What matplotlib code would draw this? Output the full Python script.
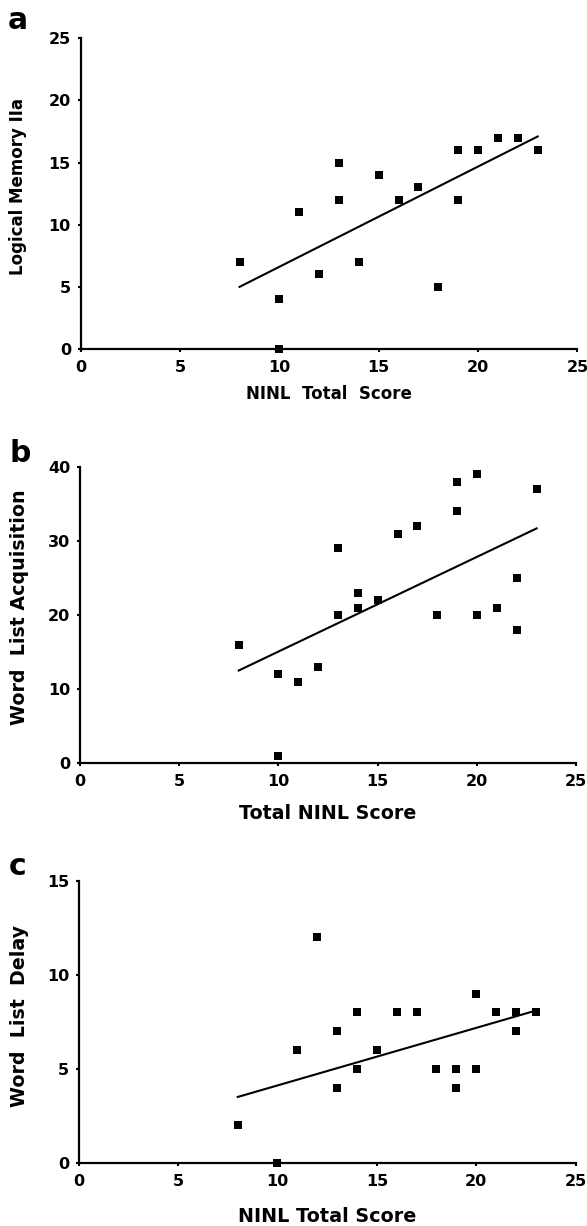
import numpy as np
import matplotlib
matplotlib.use("Agg")
import matplotlib.pyplot as plt

plt.rcParams['font.family'] = ['DejaVu Sans']
plt.rcParams['font.weight'] = 'bold'

# panel a: Logical Memory IIa vs NINL total
x_a = [8, 10, 10, 11, 12, 13, 13, 14, 15, 16, 17, 18, 19, 19, 20, 21, 22, 23]
y_a = [7, 4, 0, 11, 6, 15, 12, 7, 14, 12, 13, 5, 16, 12, 16, 17, 17, 16]
fit_x_a = [8, 23]
fit_y_a = [5.0, 17.1]

# panel b: Word list acquisition
x_b = [8, 10, 10, 11, 12, 13, 13, 14, 14, 15, 16, 17, 18, 19, 19, 20, 20, 21, 22, 22, 23]
y_b = [16, 12, 1, 11, 13, 29, 20, 23, 21, 22, 31, 32, 20, 38, 34, 39, 20, 21, 25, 18, 37]
fit_x_b = [8, 23]
fit_y_b = [12.5, 31.7]

# panel c: Word list delay
x_c = [8, 10, 11, 12, 13, 13, 14, 14, 15, 16, 17, 18, 19, 19, 20, 20, 21, 22, 22, 23]
y_c = [2, 0, 6, 12, 7, 4, 8, 5, 6, 8, 8, 5, 5, 4, 9, 5, 8, 8, 7, 8]
fit_x_c = [8, 23]
fit_y_c = [3.5, 8.1]

xticks = [0, 5, 10, 15, 20, 25]

W, H = 587, 1226

# (left, top, right, bottom) in pixels
panels = [
    dict(letter='a', x=x_a, y=y_a, fx=fit_x_a, fy=fit_y_a, ymax=25, yticks=[0, 5, 10, 15, 20, 25],
         ylabel='Logical Memory IIa', xlabel='NINL  Total  Score', ylsize=12, xlsize=12,
         box=(80.6, 38.3, 577.4, 349.0), yl=(-0.126, 0.523), xl_y=-0.145, let=(18, 29)),
    dict(letter='b', x=x_b, y=y_b, fx=fit_x_b, fy=fit_y_b, ymax=40, yticks=[0, 10, 20, 30, 40],
         ylabel='Word  List Acquisition', xlabel='Total NINL Score', ylsize=13.7, xlsize=13.7,
         box=(79.9, 467.0, 576.3, 763.0), yl=(-0.121, 0.525), xl_y=-0.169, let=(20, 462)),
    dict(letter='c', x=x_c, y=y_c, fx=fit_x_c, fy=fit_y_c, ymax=15, yticks=[0, 5, 10, 15],
         ylabel='Word  List  Delay', xlabel='NINL Total Score', ylsize=13.7, xlsize=13.8,
         box=(78.7, 881.0, 575.6, 1162.7), yl=(-0.119, 0.52), xl_y=-0.192, let=(18, 875)),
]

fig = plt.figure(figsize=(W / 100, H / 100), dpi=100)

for p in panels:
    l, t, r, b = p['box']
    ax = fig.add_axes([l / W, 1 - b / H, (r - l) / W, (b - t) / H])
    ax.scatter(p['x'], p['y'], marker='s', s=28, color='black', zorder=3, clip_on=False,
               linewidths=0)
    ax.plot(p['fx'], p['fy'], color='black', lw=1.5, zorder=2)
    ax.set_xlim(0, 25)
    ax.set_ylim(0, p['ymax'])
    ax.set_xticks(xticks)
    ax.set_yticks(p['yticks'])
    for s in ['top', 'right']:
        ax.spines[s].set_visible(False)
    for s in ['left', 'bottom']:
        ax.spines[s].set_linewidth(1.6)
    ax.tick_params(direction='out', length=2.5, width=1.5, labelsize=11.5)
    ax.tick_params(axis='x', pad=5.5)
    ax.tick_params(axis='y', pad=4.5)
    for lab in ax.get_xticklabels() + ax.get_yticklabels():
        lab.set_fontweight('bold')
    ax.set_ylabel(p['ylabel'], fontsize=p['ylsize'], fontweight='bold')
    ax.yaxis.set_label_coords(*p['yl'])
    ax.set_xlabel(p['xlabel'], fontsize=p['xlsize'], fontweight='bold')
    ax.xaxis.set_label_coords(0.5, p['xl_y'])
    ax.xaxis.label.set_va('center')
    ax.yaxis.label.set_va('center')
    lx, ly = p['let']
    fig.text(lx / W, 1 - ly / H, p['letter'], fontsize=21.5, fontweight='bold',
             ha='center', va='baseline')

fig.savefig('out.png', dpi=100)
